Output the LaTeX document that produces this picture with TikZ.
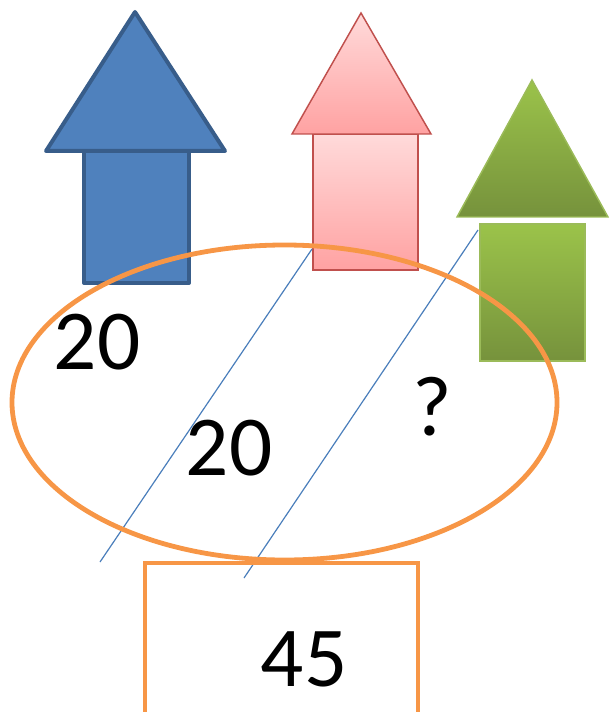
\documentclass[tikz,border=0pt]{standalone}
\usepackage{fontspec}
\setmainfont{Carlito}
\usepackage{xcolor}
\usepackage{tikz}
\usetikzlibrary{calc}

\definecolor{blueFill}{HTML}{4F81BD}
\definecolor{blueLine}{HTML}{385D8A}
\definecolor{pinkTop}{HTML}{FFDADA}
\definecolor{pinkBot}{HTML}{FFA2A2}
\definecolor{pinkLine}{HTML}{C0504D}
\definecolor{greenTop}{HTML}{9BC34A}
\definecolor{greenBot}{HTML}{76923C}
\definecolor{greenLine}{HTML}{9BBB59}
\definecolor{orangeLine}{HTML}{F79646}
\definecolor{divLine}{HTML}{4A7EBB}

\begin{document}
\begin{tikzpicture}[
  x=0.75pt, y=-0.75pt,
  bluearrow/.style={draw=blueLine, line width=3pt, fill=blueFill, line join=round},
  pinkarrow/.style={draw=pinkLine, line width=1.1pt, top color=pinkTop, bottom color=pinkBot},
  greenarrow/.style={draw=greenLine, line width=1.1pt, top color=greenTop, bottom color=greenBot},
  group/.style={draw=orangeLine, line width=3.6pt},
  divider/.style={draw=divLine, line width=0.9pt},
  num/.style={font=\fontsize{64}{70}\selectfont, inner sep=0pt}
]
  \clip (0,0) rectangle (609,712);

  % arrows
  \draw[bluearrow] (84,151) rectangle (189,283);
  \draw[bluearrow] (46,151) -- (135,12) -- (225,151) -- cycle;
  \draw[pinkarrow] (313,134) rectangle (418,270);
  \draw[pinkarrow] (292,134) -- (361,13) -- (431,134) -- cycle;
  \draw[greenarrow] (480,224) rectangle (585,361);
  \draw[greenarrow] (457,217) -- (532,80) -- (608,217) -- cycle;

  % dividers
  \coordinate (d1a) at (100,562);
  \coordinate (d1b) at (312,249);
  \coordinate (d2a) at (244,578);
  \coordinate (d2b) at (478,230);
  \draw[divider] (d1a) -- (d1b);
  \draw[divider] (d2a) -- (d2b);

  \draw[group] (284.5,402.5) ellipse [x radius=272.5, y radius=157.5];
  \draw[group] (145,563) rectangle (418,730);

  \node[num] (blueval) at (97,342) {20};
  \node[num] (pinkval) at (229,448) {20};
  \node[num] (greenval) at (432,407) {?};
  \node[num] (total) at (304,659) {45};
\end{tikzpicture}
\end{document}
